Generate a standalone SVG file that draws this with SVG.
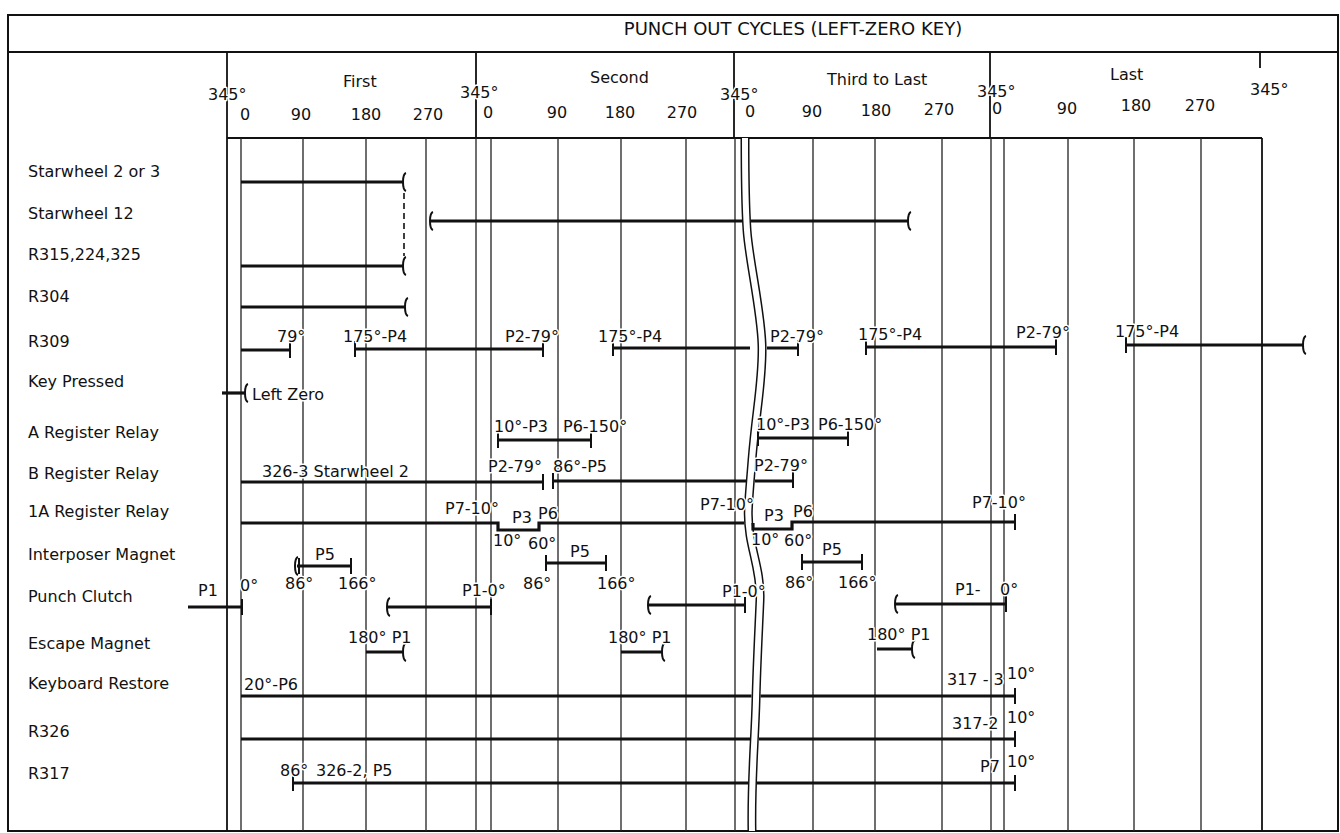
<svg xmlns="http://www.w3.org/2000/svg" width="1340" height="833" viewBox="0 0 1340 833">
<style>
.frame{fill:none;stroke:#111;stroke-width:2}
.hl{fill:none;stroke:#111;stroke-width:1.8}
.g{fill:none;stroke:#222;stroke-width:1.3}
.bar{fill:none;stroke:#111;stroke-width:3.2}
.tk{fill:none;stroke:#111;stroke-width:2}
.bk{fill:none;stroke:#111;stroke-width:2}
.dash{fill:none;stroke:#111;stroke-width:1.6;stroke-dasharray:6 4}
.wv{fill:none;stroke:#111;stroke-width:9}
.wvi{fill:none;stroke:#fff;stroke-width:6}
text{font-family:"DejaVu Sans","Liberation Sans",sans-serif;font-size:16px;fill:#111;paint-order:stroke;stroke:#fff;stroke-width:3px;stroke-linejoin:round}
.title{font-size:18px}
.lbl{stroke:none}
</style>
<defs>
<path id="tk" class="tk" d="M0,-8V8"/>
<path id="brk" class="bk" d="M3,-9C0,-8 0,-4 0,0C0,4 0,8 3,9"/>
<path id="wave" d="M745,138C745,180 745,200 747,230S761,310 762,345S756,410 752,460S747,515 750,535S761,575 760,600S757,660 756,700S751,780 752,831"/>
</defs>
<rect id="background" width="1340" height="833" fill="#fff"/>
<g id="frame">
<rect class="frame" x="8" y="15" width="1330" height="816"/>
<path class="frame" d="M8,52H1338"/>
<text class="title" x="793" y="35" text-anchor="middle">PUNCH OUT CYCLES (LEFT-ZERO KEY)</text>
</g>
<g id="grid">
<path class="hl" d="M227,52V831M476,52V138M734,52V138M990,52V138M1260,52V68M227,138H1262M1262,138V831"/>
<path class="g" d="M241,138V831M303,138V831M366,138V831M426,138V831M476,138V831M491,138V831M558,138V831M621,138V831M686,138V831M735,138V831M813,138V831M875,138V831M942,138V831M991,138V831M1004,138V831M1068,138V831M1134,138V831M1201,138V831"/>
</g>
<g id="break">
<use href="#wave" class="wv"/>
<use href="#wave" class="wvi"/>
</g>
<g id="header">
<text x="208" y="100">345°</text>
<text x="460" y="98">345°</text>
<text x="720" y="100">345°</text>
<text x="977" y="97">345°</text>
<text x="1250" y="95">345°</text>
<text x="343" y="87">First</text>
<text x="590" y="83">Second</text>
<text x="827" y="85">Third to Last</text>
<text x="1110" y="80">Last</text>
<g text-anchor="middle">
<text x="245" y="120">0</text><text x="301" y="120">90</text><text x="366" y="120">180</text><text x="428" y="120">270</text>
<text x="488" y="118">0</text><text x="557" y="118">90</text><text x="620" y="118">180</text><text x="682" y="118">270</text>
<text x="750" y="117">0</text><text x="812" y="117">90</text><text x="876" y="116">180</text><text x="939" y="115">270</text>
<text x="997" y="114">0</text><text x="1067" y="114">90</text><text x="1136" y="111">180</text><text x="1200" y="111">270</text>
</g>
</g>
<g id="row-starwheel-2-or-3">
<text class="lbl" x="28" y="177">Starwheel 2 or 3</text>
<path class="bar" d="M241,182H403"/><use href="#brk" x="403" y="182"/>
<path class="dash" d="M404,193V256"/>
</g>
<g id="row-starwheel-12">
<text class="lbl" x="28" y="219">Starwheel 12</text>
<path class="bar" d="M430,221H742M751,221H908"/><use href="#brk" x="430" y="221"/><use href="#brk" x="908" y="221"/>
</g>
<g id="row-r315">
<text class="lbl" x="28" y="260">R315,224,325</text>
<path class="bar" d="M241,266H403"/><use href="#brk" x="403" y="266"/>
</g>
<g id="row-r304">
<text class="lbl" x="28" y="302">R304</text>
<path class="bar" d="M241,307H405"/><use href="#brk" x="405" y="307"/>
</g>
<g id="row-r309">
<text class="lbl" x="28" y="347">R309</text>
<path class="bar" d="M241,350H290M355,349H543M613,348H750M767,348H798M866,347H1056M1126,345H1303"/>
<use href="#tk" x="290" y="350"/><use href="#tk" x="355" y="349"/><use href="#tk" x="543" y="349"/><use href="#tk" x="613" y="348"/><use href="#tk" x="798" y="348"/><use href="#tk" x="866" y="347"/><use href="#tk" x="1056" y="347"/><use href="#tk" x="1126" y="345"/><use href="#brk" x="1303" y="345"/>
<text x="277" y="342">79°</text>
<text x="343" y="342">175°-P4</text>
<text x="505" y="342">P2-79°</text>
<text x="598" y="342">175°-P4</text>
<text x="770" y="342">P2-79°</text>
<text x="858" y="340">175°-P4</text>
<text x="1016" y="338">P2-79°</text>
<text x="1115" y="337">175°-P4</text>
</g>
<g id="row-key-pressed">
<text class="lbl" x="28" y="387">Key Pressed</text>
<path class="bar" d="M222,393H245"/><use href="#brk" x="245" y="393"/>
<text x="252" y="400">Left Zero</text>
</g>
<g id="row-a-register">
<text class="lbl" x="28" y="438">A Register Relay</text>
<path class="bar" d="M498,440H591M758,438H848"/>
<use href="#tk" x="498" y="440"/><use href="#tk" x="591" y="440"/><use href="#tk" x="758" y="438"/><use href="#tk" x="848" y="438"/>
<text x="494" y="432">10°-P3</text><text x="563" y="432">P6-150°</text>
<text x="756" y="430">10°-P3</text><text x="818" y="430">P6-150°</text>
</g>
<g id="row-b-register">
<text class="lbl" x="28" y="479">B Register Relay</text>
<path class="bar" d="M241,482H543M553,481H746M755,481H793"/>
<use href="#tk" x="543" y="482"/><use href="#tk" x="553" y="481"/><use href="#tk" x="793" y="480"/>
<text x="262" y="477">326-3 Starwheel 2</text>
<text x="488" y="472">P2-79°</text><text x="553" y="472">86°-P5</text>
<text x="754" y="471">P2-79°</text>
</g>
<g id="row-1a-register">
<text class="lbl" x="28" y="517">1A Register Relay</text>
<path class="bar" d="M241,523H498V530H539V523H744M753,523V529H792V522H1015"/>
<use href="#tk" x="1015" y="522"/>
<text x="445" y="514">P7-10°</text><text x="512" y="523">P3</text><text x="538" y="519">P6</text>
<text x="493" y="546">10°</text><text x="528" y="549">60°</text>
<text x="700" y="510">P7-10°</text><text x="764" y="521">P3</text><text x="793" y="517">P6</text>
<text x="751" y="545">10°</text><text x="784" y="546">60°</text>
<text x="972" y="508">P7-10°</text>
</g>
<g id="row-interposer">
<text class="lbl" x="28" y="560">Interposer Magnet</text>
<path class="bar" d="M297,566H351M546,563H606M802,562H862"/>
<use href="#brk" x="295" y="566"/><use href="#tk" x="299" y="566"/><use href="#tk" x="351" y="566"/>
<use href="#tk" x="546" y="563"/><use href="#tk" x="606" y="563"/><use href="#tk" x="802" y="562"/><use href="#tk" x="862" y="562"/>
<text x="315" y="560">P5</text><text x="570" y="557">P5</text><text x="822" y="555">P5</text>
</g>
<g id="row-punch-clutch">
<text class="lbl" x="28" y="602">Punch Clutch</text>
<path class="bar" d="M188,607H242M387,607H491M648,605H745M895,604H1006"/>
<use href="#tk" x="242" y="607"/><use href="#brk" x="387" y="607"/><use href="#tk" x="491" y="607"/>
<use href="#brk" x="648" y="605"/><use href="#tk" x="745" y="605"/><use href="#brk" x="895" y="604"/><use href="#tk" x="1006" y="604"/>
<text x="198" y="596">P1</text><text x="240" y="591">0°</text><text x="285" y="589">86°</text><text x="338" y="589">166°</text>
<text x="462" y="596">P1-0°</text><text x="523" y="589">86°</text><text x="597" y="589">166°</text>
<text x="722" y="597">P1-0°</text><text x="785" y="588">86°</text><text x="838" y="588">166°</text>
<text x="955" y="595">P1-</text><text x="1000" y="595">0°</text>
</g>
<g id="row-escape-magnet">
<text class="lbl" x="28" y="649">Escape Magnet</text>
<path class="bar" d="M366,652H403M621,652H662M877,649H912"/>
<use href="#brk" x="403" y="652"/><use href="#brk" x="662" y="652"/><use href="#brk" x="912" y="649"/>
<text x="348" y="643">180° P1</text><text x="608" y="643">180° P1</text><text x="867" y="640">180° P1</text>
</g>
<g id="row-keyboard-restore">
<text class="lbl" x="28" y="689">Keyboard Restore</text>
<path class="bar" d="M241,696H751.5M760.5,696H1015"/><use href="#tk" x="1015" y="696"/>
<text x="244" y="690">20°-P6</text><text x="947" y="685">317 - 3</text><text x="1007" y="679">10°</text>
</g>
<g id="row-r326">
<text class="lbl" x="28" y="737">R326</text>
<path class="bar" d="M241,739H750M759,739H1015"/><use href="#tk" x="1015" y="739"/>
<text x="952" y="729">317-2</text><text x="1007" y="723">10°</text>
</g>
<g id="row-r317">
<text class="lbl" x="28" y="779">R317</text>
<path class="bar" d="M293,783H748M757,783H1015"/><use href="#tk" x="293" y="783"/><use href="#tk" x="1015" y="783"/>
<text x="280" y="776">86°</text><text x="316" y="776">326-2, P5</text>
<text x="980" y="772">P7</text><text x="1007" y="767">10°</text>
</g>
</svg>
